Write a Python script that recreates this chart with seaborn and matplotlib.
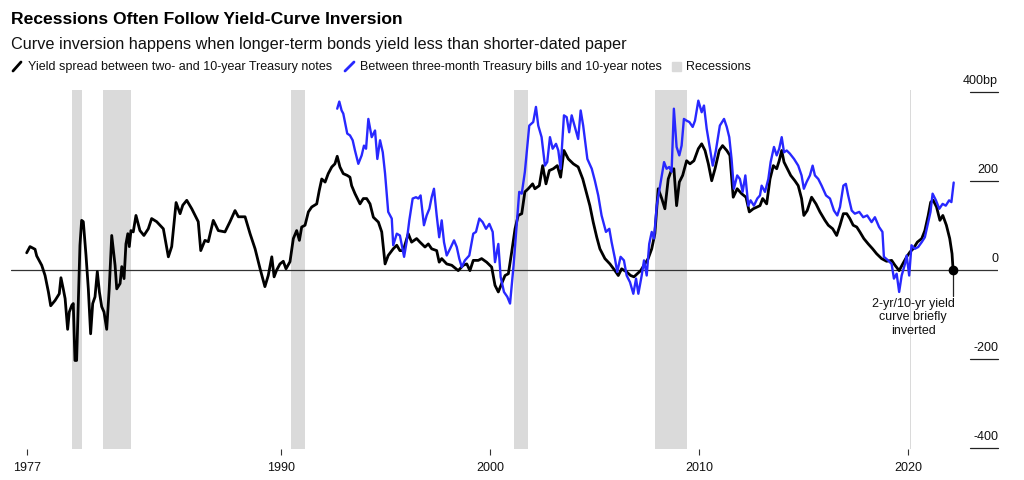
import matplotlib
matplotlib.use("Agg")
import matplotlib.pyplot as plt
import pandas as pd
import seaborn as sns
from matplotlib.lines import Line2D
from matplotlib.patches import Rectangle

TITLE = "Recessions Often Follow Yield-Curve Inversion"
SUBTITLE = "Curve inversion happens when longer-term bonds yield less than shorter-dated paper"
LEGEND_LABELS = [
    "Yield spread between two- and 10-year Treasury notes",
    "Between three-month Treasury bills and 10-year notes",
    "Recessions",
]
NOTE = "2-yr/10-yr yield\ncurve briefly\ninverted"

# 2-year / 10-year spread, decimal year and basis points
two_ten_dates = [
    1977.83, 1977.99, 1978.23, 1978.31, 1978.55, 1978.71, 1978.87, 1978.98, 1979.19, 1979.39,
    1979.47, 1979.58, 1979.67, 1979.79, 1979.87, 1979.99, 1980.06, 1980.14, 1980.22, 1980.38,
    1980.46, 1980.54, 1980.67, 1980.78, 1980.89, 1980.99, 1981.10, 1981.21, 1981.31, 1981.42,
    1981.53, 1981.66, 1981.78, 1981.90, 1982.06, 1982.14, 1982.30, 1982.38, 1982.49, 1982.58,
    1982.67, 1982.74, 1982.82, 1982.93, 1983.06, 1983.25, 1983.44, 1983.65, 1983.81, 1984.05,
    1984.37, 1984.61, 1984.77, 1984.98, 1985.17, 1985.30, 1985.49, 1985.73, 1986.04, 1986.16,
    1986.36, 1986.52, 1986.76, 1987.00, 1987.32, 1987.56, 1987.80, 1987.96, 1988.28, 1988.52,
    1988.76, 1989.00, 1989.23, 1989.39, 1989.56, 1989.67, 1989.79, 1989.95, 1990.11, 1990.24,
    1990.43, 1990.59, 1990.75, 1990.88, 1990.99, 1991.15, 1991.31, 1991.47, 1991.71, 1991.83,
    1991.95, 1992.11, 1992.26, 1992.43, 1992.58, 1992.69, 1992.82, 1992.98, 1993.17, 1993.30,
    1993.38, 1993.54, 1993.78, 1993.94, 1994.10, 1994.26, 1994.42, 1994.66, 1994.82, 1994.98,
    1995.13, 1995.37, 1995.54, 1995.69, 1995.85, 1996.09, 1996.25, 1996.49, 1996.65, 1996.89,
    1997.05, 1997.21, 1997.45, 1997.57, 1997.69, 1997.93, 1998.17, 1998.48, 1998.72, 1998.89,
    1999.04, 1999.20, 1999.44, 1999.60, 1999.84, 2000.08, 2000.24, 2000.40, 2000.56, 2000.72,
    2000.88, 2001.04, 2001.20, 2001.35, 2001.52, 2001.67, 2001.83, 2002.04, 2002.15, 2002.36,
    2002.52, 2002.68, 2002.84, 2003.03, 2003.22, 2003.38, 2003.54, 2003.75, 2003.99, 2004.22,
    2004.44, 2004.63, 2004.78, 2004.94, 2005.11, 2005.26, 2005.50, 2005.74, 2005.98, 2006.14,
    2006.30, 2006.54, 2006.73, 2006.89, 2007.05, 2007.21, 2007.37, 2007.57, 2007.74, 2007.89,
    2008.05, 2008.22, 2008.37, 2008.53, 2008.65, 2008.80, 2008.93, 2009.06, 2009.22, 2009.41,
    2009.57, 2009.76, 2009.97, 2010.13, 2010.29, 2010.45, 2010.61, 2010.77, 2010.97, 2011.13,
    2011.33, 2011.48, 2011.64, 2011.83, 2012.04, 2012.25, 2012.41, 2012.60, 2012.92, 2013.05,
    2013.24, 2013.40, 2013.56, 2013.72, 2013.84, 2013.96, 2014.07, 2014.23, 2014.39, 2014.59,
    2014.75, 2014.91, 2015.02, 2015.18, 2015.39, 2015.60, 2015.79, 2016.03, 2016.19, 2016.40,
    2016.59, 2016.75, 2016.91, 2017.07, 2017.22, 2017.38, 2017.55, 2017.70, 2017.89, 2018.10,
    2018.31, 2018.50, 2018.74, 2018.98, 2019.22, 2019.38, 2019.58, 2019.75, 2019.94, 2020.10,
    2020.25, 2020.45, 2020.66, 2020.81, 2020.97, 2021.09, 2021.21, 2021.37, 2021.53, 2021.67,
    2021.84, 2022.00, 2022.11, 2022.16,
]
two_ten_bp = [
    38, 52, 46, 31, 10, -13, -50, -81, -69, -54,
    -18, -43, -65, -134, -95, -80, -76, -204, -204, 55,
    111, 108, 32, -43, -144, -76, -61, -4, -50, -83,
    -95, -134, -43, 77, 10, -43, -31, 7, -20, 58,
    81, 52, 88, 85, 122, 88, 77, 92, 115, 108,
    92, 29, 52, 151, 126, 145, 156, 137, 108, 43,
    66, 63, 111, 88, 85, 108, 133, 119, 119, 81,
    47, 2, -38, -13, 29, -16, -1, 13, 19, 2,
    18, 70, 88, 66, 96, 100, 130, 141, 148, 178,
    204, 197, 216, 231, 238, 255, 231, 216, 212, 208,
    189, 171, 148, 160, 160, 148, 118, 107, 85, 13,
    32, 47, 55, 43, 43, 81, 62, 70, 62, 51,
    58, 47, 43, 17, 25, 13, 10, -2, 10, 13,
    -2, 21, 21, 25, 17, 6, -35, -50, -31, -13,
    -9, 40, 92, 122, 126, 175, 182, 193, 182, 189,
    234, 193, 223, 227, 234, 208, 268, 249, 238, 231,
    204, 171, 144, 107, 73, 47, 25, 13, -2, -13,
    2, -5, -13, -16, -9, -2, 10, 25, 47, 81,
    182, 160, 137, 204, 220, 227, 144, 197, 212, 245,
    238, 245, 272, 283, 268, 238, 200, 227, 268, 279,
    268, 257, 163, 182, 171, 163, 130, 137, 144, 160,
    148, 204, 234, 227, 245, 268, 242, 227, 212, 200,
    189, 160, 122, 133, 163, 148, 130, 111, 100, 92,
    77, 100, 126, 126, 115, 100, 96, 85, 70, 58,
    47, 36, 25, 19, 21, 10, -2, 13, 29, 40,
    47, 62, 70, 88, 122, 152, 156, 141, 111, 122,
    100, 70, 36, 0,
]

# 3-month / 10-year spread
three_ten_dates = [
    1992.69, 1992.79, 1992.90, 1992.98, 1993.17, 1993.30, 1993.43, 1993.54, 1993.70, 1993.86,
    1993.97, 1994.07, 1994.18, 1994.34, 1994.50, 1994.61, 1994.74, 1994.87, 1994.98, 1995.13,
    1995.30, 1995.37, 1995.54, 1995.69, 1995.89, 1996.01, 1996.14, 1996.30, 1996.46, 1996.57,
    1996.68, 1996.84, 1996.97, 1997.10, 1997.21, 1997.32, 1997.45, 1997.57, 1997.69, 1997.80,
    1997.93, 1998.09, 1998.28, 1998.41, 1998.53, 1998.65, 1998.80, 1999.01, 1999.20, 1999.33,
    1999.49, 1999.65, 1999.81, 1999.97, 2000.13, 2000.24, 2000.40, 2000.51, 2000.67, 2000.83,
    2000.96, 2001.13, 2001.29, 2001.40, 2001.52, 2001.67, 2001.88, 2002.07, 2002.20, 2002.31,
    2002.47, 2002.63, 2002.74, 2002.87, 2003.00, 2003.16, 2003.27, 2003.38, 2003.54, 2003.67,
    2003.79, 2003.91, 2004.11, 2004.22, 2004.34, 2004.46, 2004.66, 2004.87, 2005.02, 2005.18,
    2005.34, 2005.55, 2005.71, 2005.82, 2005.98, 2006.09, 2006.25, 2006.41, 2006.54, 2006.70,
    2006.86, 2006.99, 2007.10, 2007.26, 2007.37, 2007.50, 2007.62, 2007.74, 2007.85, 2007.98,
    2008.10, 2008.22, 2008.33, 2008.45, 2008.58, 2008.69, 2008.80, 2008.93, 2009.06, 2009.17,
    2009.28, 2009.41, 2009.54, 2009.70, 2009.81, 2009.97, 2010.13, 2010.24, 2010.37, 2010.53,
    2010.66, 2010.81, 2011.00, 2011.20, 2011.33, 2011.45, 2011.56, 2011.67, 2011.83, 2011.96,
    2012.09, 2012.22, 2012.36, 2012.47, 2012.63, 2012.79, 2012.92, 2013.00, 2013.16, 2013.32,
    2013.43, 2013.59, 2013.72, 2013.84, 2013.96, 2014.07, 2014.20, 2014.35, 2014.55, 2014.75,
    2014.91, 2015.02, 2015.15, 2015.31, 2015.44, 2015.55, 2015.71, 2015.87, 2016.08, 2016.27,
    2016.46, 2016.62, 2016.75, 2016.91, 2017.03, 2017.14, 2017.31, 2017.46, 2017.67, 2017.86,
    2018.05, 2018.26, 2018.42, 2018.62, 2018.78, 2018.85, 2019.05, 2019.22, 2019.33, 2019.46,
    2019.58, 2019.70, 2019.86, 2019.94, 2020.06, 2020.17, 2020.33, 2020.49, 2020.66, 2020.81,
    2020.97, 2021.08, 2021.18, 2021.34, 2021.50, 2021.66, 2021.81, 2021.97, 2022.08, 2022.19,
]
three_ten_bp = [
    362, 378, 358, 351, 306, 302, 291, 268, 238, 257,
    279, 272, 339, 298, 313, 249, 291, 264, 216, 130,
    115, 55, 81, 77, 29, 62, 111, 160, 163, 160,
    167, 100, 122, 137, 163, 182, 122, 73, 111, 62,
    32, 47, 66, 51, 25, 6, 21, 32, 81, 85,
    115, 107, 92, 103, 85, 17, 58, -16, -50, -61,
    -76, 10, 107, 175, 171, 220, 324, 332, 366, 324,
    298, 234, 242, 298, 272, 283, 268, 227, 347, 343,
    309, 347, 313, 294, 358, 324, 249, 227, 200, 167,
    122, 85, 92, 62, 25, -5, 29, 21, -13, -28,
    -54, -20, -54, -13, 21, -13, 58, 85, 70, 144,
    178, 212, 242, 227, 231, 220, 362, 276, 257, 279,
    339, 335, 332, 321, 335, 380, 354, 369, 317, 272,
    234, 268, 324, 339, 321, 298, 249, 182, 212, 204,
    175, 212, 144, 156, 144, 160, 167, 189, 175, 204,
    242, 276, 257, 272, 298, 264, 268, 261, 249, 234,
    212, 182, 197, 212, 234, 212, 204, 189, 167, 160,
    133, 122, 141, 189, 193, 167, 133, 126, 130, 118,
    122, 107, 118, 96, 85, 29, 21, 13, -20, -9,
    -50, -13, 13, 32, -13, 55, 47, 51, 62, 73,
    107, 130, 171, 156, 137, 148, 144, 156, 152, 196,
]

recession_starts = [1980.00, 1981.50, 1990.50, 2001.17, 2007.92, 2020.08]
recession_ends = [1980.50, 1982.83, 1991.17, 2001.83, 2009.42, 2020.17]

year_ticks = [1990, 2000, 2010, 2020]
year_labels = ["1977", "1990", "2000", "2010", "2020"]
bp_ticks = [400, 200, 0, -200, -400]
bp_labels = ["400bp", "200", "0", "-200", "-400"]

BLACK = "#000000"
BLUE = "#2828ff"
GREY = "#dadada"
INK = "#111111"


def main():
    sns.set_style("white")
    plt.rcParams["font.family"] = ["Liberation Sans", "DejaVu Sans"]
    plt.rcParams["text.color"] = INK

    two_ten = pd.DataFrame({"date": two_ten_dates, "bp": two_ten_bp})
    three_ten = pd.DataFrame({"date": three_ten_dates, "bp": three_ten_bp})

    fig = plt.figure(figsize=(10.24, 4.81), dpi=100)
    W, H = 1024, 481
    ax = fig.add_axes([11 / W, 31 / H, 987 / W, 359 / H])

    for s, e in zip(recession_starts, recession_ends):
        ax.axvspan(s, e, color=GREY, lw=0, zorder=0)
    ax.axhline(0, color="#333333", lw=0.9, zorder=1)

    sns.lineplot(data=two_ten, x="date", y="bp", color=BLACK, lw=2.0,
                 estimator=None, ax=ax, zorder=3)
    sns.lineplot(data=three_ten, x="date", y="bp", color=BLUE, lw=1.7,
                 estimator=None, ax=ax, zorder=4)

    ax.set_xlim(1977.08, 2024.31)
    ax.set_ylim(-403, 404)
    for sp in ax.spines.values():
        sp.set_visible(False)
    ax.set_xlabel("")
    ax.set_ylabel("")
    ax.set_yticks([])
    ax.set_xticks([two_ten_dates[0]] + year_ticks)
    ax.set_xticklabels(year_labels)
    ax.tick_params(axis="x", length=4, width=0.8, color="#333333", pad=5,
                   labelsize=9, labelcolor=INK, bottom=True)

    # right-hand value labels with short rules under them
    ytrans = ax.get_yaxis_transform()
    for v, lab in zip(bp_ticks, bp_labels):
        ax.annotate(lab, xy=(1.0, v), xycoords=ytrans, xytext=(0, 4),
                    textcoords="offset points", ha="right", va="bottom",
                    fontsize=9, color=INK)
        if v != 0:
            ax.plot([0.9716, 1.0], [v, v], transform=ytrans, color="#222222",
                    lw=0.9, clip_on=False)

    # end-point annotation
    end_x, end_y = two_ten_dates[-1], two_ten_bp[-1]
    ax.plot([end_x, end_x], [end_y, -58], color="#222222", lw=0.9, zorder=5)
    ax.plot([end_x], [end_y], marker="o", ms=6, color=BLACK, zorder=6)
    ax.annotate(NOTE, xy=(end_x, -58), xytext=(1, -1), textcoords="offset points",
                ha="right", va="top", multialignment="center", fontsize=9,
                color=INK, linespacing=1.15)

    # title block
    fig.text(11 / W, 1 - 19 / H, TITLE, fontsize=12.6, weight="bold", va="center",
             color=BLACK)
    fig.text(11 / W, 1 - 44 / H, SUBTITLE, fontsize=11.7, va="center", color=INK)

    ly = 1 - 67 / H
    fig.add_artist(Line2D([13 / W, 21 / W], [1 - 72 / H, 1 - 63 / H], color=BLACK, lw=2.0))
    fig.text(28 / W, ly, LEGEND_LABELS[0], fontsize=9, va="center", color=INK)
    fig.add_artist(Line2D([345 / W, 354 / W], [1 - 72 / H, 1 - 63 / H], color=BLUE, lw=2.0))
    fig.text(360 / W, ly, LEGEND_LABELS[1], fontsize=9, va="center", color=INK)
    fig.add_artist(Rectangle((672 / W, 1 - 72 / H), 9 / W, 9 / H, color=GREY,
                             transform=fig.transFigure))
    fig.text(686 / W, ly, LEGEND_LABELS[2], fontsize=9, va="center", color=INK)

    fig.savefig("out.png", dpi=100)


if __name__ == "__main__":
    main()
